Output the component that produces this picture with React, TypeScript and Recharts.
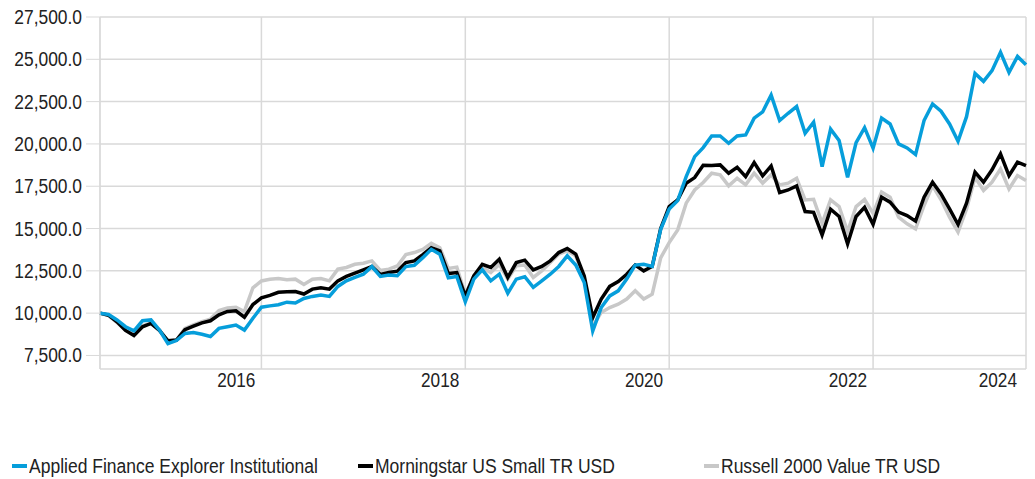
import React from 'react';
import { LineChart, Line, XAxis, YAxis, CartesianGrid } from 'recharts';

if (typeof document !== 'undefined') document.body.style.margin = '0';

// no condensed font installed: Liberation Sans squeezed horizontally instead
const FONT = '"Liberation Sans", Arial, sans-serif';

// monthly growth of 10,000, May 2015 .. Jun 2024 (index = month number)
const appliedFinance = [
  10000, 9920, 9600, 9200, 8950, 9550, 9600, 9000, 8200, 8380,
  8800, 8850, 8750, 8620, 9100, 9200, 9300, 9000, 9700, 10350,
  10430, 10500, 10650, 10600, 10870, 10990, 11070, 10990, 11580, 11910,
  12110, 12300, 12750, 12170, 12260, 12210, 12750, 12830, 13280, 13770,
  13480, 12090, 12170, 10670, 12010, 12560, 11910, 12300, 11180, 12010,
  12150, 11520, 11910, 12300, 12760, 13390, 12840, 11810, 8950, 10330,
  11020, 11320, 12010, 12840, 12890, 12760, 14950, 16150, 16650, 18070,
  19250, 19780, 20470, 20470, 20040, 20470, 20530, 21520, 21890, 22890,
  21380, 21810, 22210, 20630, 21280, 18660, 20870, 20200, 18030, 20080,
  20960, 19750, 21530, 21180, 20000, 19760, 19370, 21380, 22360, 21930,
  21180, 20160, 21610, 24170, 23700, 24330, 25410, 24230, 25170, 24680,
];

const msSmall = [
  10000, 9880, 9490, 8980, 8680, 9190, 9390, 8980, 8370, 8410,
  9020, 9230, 9430, 9550, 9900, 10100, 10140, 9760, 10510, 10900,
  11050, 11230, 11270, 11280, 11130, 11420, 11500, 11420, 11910, 12170,
  12360, 12560, 12750, 12280, 12400, 12480, 12990, 13090, 13460, 13870,
  13680, 12340, 12400, 11020, 12200, 12890, 12700, 13190, 12110, 12990,
  13130, 12560, 12760, 13090, 13580, 13820, 13490, 12200, 9740, 10830,
  11580, 11870, 12300, 12840, 12500, 12760, 15000, 16300, 16690, 17680,
  18010, 18740, 18720, 18760, 18270, 18620, 18070, 18900, 18110, 18700,
  17130, 17280, 17520, 16000, 15960, 14620, 16140, 15710, 14090, 15710,
  16250, 15250, 16850, 16560, 15970, 15770, 15440, 16850, 17740, 17050,
  16160, 15240, 16500, 18330, 17740, 18470, 19410, 18130, 18920, 18720,
];

const r2000Value = [
  10000, 9850, 9450, 9000, 8750, 9250, 9400, 9000, 8350, 8400,
  9100, 9300, 9500, 9650, 10150, 10300, 10350, 10100, 11500, 11900,
  12000, 12050, 11970, 12010, 11700, 12010, 12050, 11910, 12600, 12700,
  12890, 12950, 13090, 12520, 12600, 12790, 13460, 13580, 13770, 14130,
  13870, 12640, 12720, 11100, 12200, 12700, 12400, 12890, 12010, 12800,
  12840, 12110, 12500, 12990, 13490, 13680, 13390, 12010, 9200, 10040,
  10330, 10530, 10830, 11320, 10830, 11120, 13270, 14170, 14920, 16500,
  17280, 17720, 18270, 18170, 17520, 17970, 17580, 18270, 17680, 18170,
  17580, 17680, 17970, 16690, 16730, 15310, 16690, 16300, 14820, 16300,
  16720, 15900, 17150, 16850, 15670, 15280, 14980, 16360, 17540, 16700,
  15670, 14790, 16160, 18030, 17250, 17740, 18520, 17340, 18130, 17840,
];

const yearTicks = [19, 43, 67, 91, 109];
const yearLabels = ['2016', '2018', '2020', '2022', '2024'];
const valueTicks = [7500, 10000, 12500, 15000, 17500, 20000, 22500, 25000, 27500];

const series = [
  { key: 'Applied Finance Explorer Institutional', values: appliedFinance, color: '#069edb' },
  { key: 'Morningstar US Small TR USD', values: msSmall, color: '#000000' },
  { key: 'Russell 2000 Value TR USD', values: r2000Value, color: '#c8c8c8' },
];

const data = appliedFinance.map((_, i) => {
  const row: Record<string, number> = { i };
  series.forEach((s) => { row[s.key] = s.values[i]; });
  return row;
});

const YearTick = (props: any) => {
  const { x, y, payload } = props;
  const idx = yearTicks.indexOf(payload.value);
  return (
    <text
      transform={`translate(${x - 6},${y + 18}) scale(0.82,1)`}
      textAnchor="end"
      fill="#222"
      fontSize={21}
      fontFamily={FONT}
    >
      {yearLabels[idx]}
    </text>
  );
};

const ValueTick = (props: any) => {
  const { x, y, payload } = props;
  const label = payload.value.toLocaleString('en-US', { minimumFractionDigits: 1 });
  return (
    <text
      transform={`translate(${x},${y + 7}) scale(0.87,1)`}
      textAnchor="end"
      fill="#222"
      fontSize={20}
      fontFamily={FONT}
    >
      {label}
    </text>
  );
};

export default function App() {
  // draw gray first so the blue line ends up on top
  const drawOrder = [series[2], series[1], series[0]];
  return (
    <div style={{ position: 'relative', width: 1035, height: 479, background: '#fff' }}>
      <LineChart
        width={1035}
        height={479}
        data={data}
        margin={{ top: 17, right: 9, bottom: 80, left: 0 }}
      >
        <CartesianGrid stroke="#d9d9d9" strokeWidth={1.5} />
        <XAxis
          dataKey="i"
          type="number"
          domain={[0, 109]}
          ticks={yearTicks}
          tick={<YearTick />}
          axisLine={false}
          tickLine={false}
          tickSize={0}
          tickMargin={0}
          height={30}
        />
        <YAxis
          type="number"
          domain={[6700, 27500]}
          ticks={valueTicks}
          allowDataOverflow
          width={100}
          tickSize={14}
          tickMargin={4}
          stroke="#d9d9d9"
          tick={<ValueTick />}
        />
        {drawOrder.map((s) => (
          <Line
            key={s.key}
            dataKey={s.key}
            type="linear"
            stroke={s.color}
            strokeWidth={3.5}
            dot={false}
            isAnimationActive={false}
          />
        ))}
      </LineChart>
      <div style={{ position: 'absolute', top: 454, left: 0, width: 1035, height: 24, fontFamily: FONT, fontSize: 20, color: '#222' }}>
        {series.map((s, k) => (
          <div key={s.key} style={{ position: 'absolute', left: 12 + k * 346, top: 0, display: 'flex', alignItems: 'center', height: 24, whiteSpace: 'nowrap' }}>
            <span style={{ display: 'inline-block', width: 15, height: 4, background: s.color, marginRight: 2 }} />
            <span style={{ display: 'inline-block', transform: 'scaleX(0.875)', transformOrigin: 'left center' }}>{s.key}</span>
          </div>
        ))}
      </div>
    </div>
  );
}
